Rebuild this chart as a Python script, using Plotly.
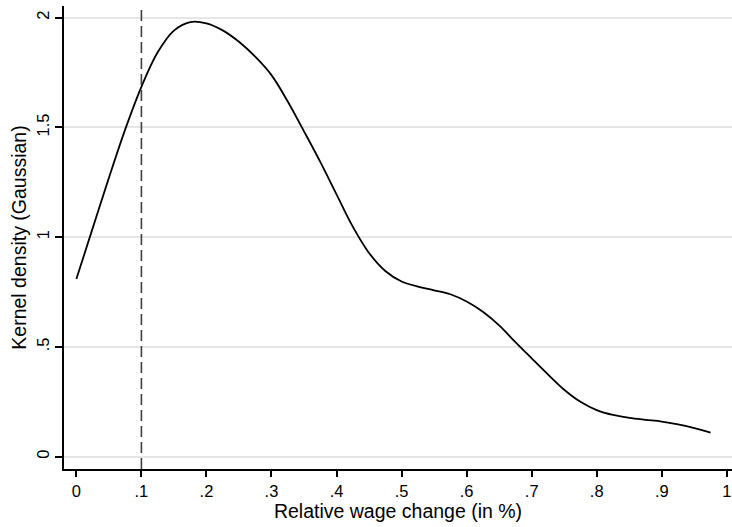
import plotly.graph_objects as go

# Kernel density curve (every 0.025)
wage_change = [0.0, 0.025, 0.05, 0.075, 0.1, 0.125, 0.15, 0.175, 0.2, 0.225,
               0.25, 0.275, 0.3, 0.325, 0.35, 0.375, 0.4, 0.425, 0.45, 0.475,
               0.5, 0.525, 0.55, 0.575, 0.6, 0.625, 0.65, 0.675, 0.7, 0.725,
               0.75, 0.775, 0.8, 0.825, 0.85, 0.875, 0.9, 0.925, 0.95, 0.975]
density = [0.809, 1.04, 1.27, 1.49, 1.685, 1.842, 1.941, 1.980, 1.974, 1.942,
           1.890, 1.822, 1.738, 1.618, 1.482, 1.343, 1.195, 1.048, 0.928, 0.846,
           0.798, 0.775, 0.758, 0.740, 0.707, 0.660, 0.598, 0.522, 0.448, 0.375,
           0.305, 0.250, 0.212, 0.190, 0.177, 0.168, 0.160, 0.147, 0.130, 0.110]

threshold = 0.1

x_ticks = [0, 0.1, 0.2, 0.3, 0.4, 0.5, 0.6, 0.7, 0.8, 0.9, 1.0]
x_tick_labels = ["0", ".1", ".2", ".3", ".4", ".5", ".6", ".7", ".8", ".9", "1"]
y_ticks = [0, 0.5, 1, 1.5, 2]
y_tick_labels = ["0", ".5", "1", "1.5", "2"]

font_family = "Liberation Sans, Arial, sans-serif"

fig = go.Figure()
fig.add_trace(go.Scatter(
    x=wage_change, y=density, mode="lines",
    line=dict(color="black", width=1.8, shape="spline", smoothing=1.0),
    showlegend=False, hoverinfo="skip",
))

fig.add_shape(type="line", xref="x", yref="paper",
              x0=threshold, x1=threshold, y0=0, y1=1,
              line=dict(color="#404040", width=1.6, dash="11px,5px"))

fig.update_layout(
    width=732, height=527,
    margin=dict(l=64, r=0, t=6, b=58),
    paper_bgcolor="white", plot_bgcolor="white",
    font=dict(family=font_family, color="black"),
    showlegend=False,
)

fig.update_xaxes(
    range=[-0.019, 1.008],
    tickvals=x_ticks, ticktext=x_tick_labels,
    showline=True, linecolor="black", linewidth=1.5,
    ticks="outside", ticklen=6, tickwidth=1.5, tickcolor="black",
    ticklabeloverflow="allow",
    showgrid=False, zeroline=False, automargin=False,
    tickfont=dict(size=16.5, family=font_family, color="black"),
    title=dict(text="Relative wage change (in %)", font=dict(size=19.5, family=font_family), standoff=4),
)

fig.update_yaxes(
    range=[-0.056, 2.053],
    tickvals=y_ticks, ticktext=y_tick_labels, tickangle=-90,
    showline=True, linecolor="black", linewidth=1.5,
    ticks="outside", ticklen=7, tickwidth=1.5, tickcolor="black",
    showgrid=True, gridcolor="#e6e6e6", gridwidth=1.5, zeroline=False, automargin=False,
    tickfont=dict(size=16.5, family=font_family, color="black"),
    title=dict(text="Kernel density (Gaussian)", font=dict(size=19.5, family=font_family), standoff=2),
)

fig.write_html(
    "out.html",
    config={"displayModeBar": False},
    post_script="document.documentElement.style.margin='0';"
                "document.body.style.margin='0';"
                "document.body.style.overflow='hidden';",
)
